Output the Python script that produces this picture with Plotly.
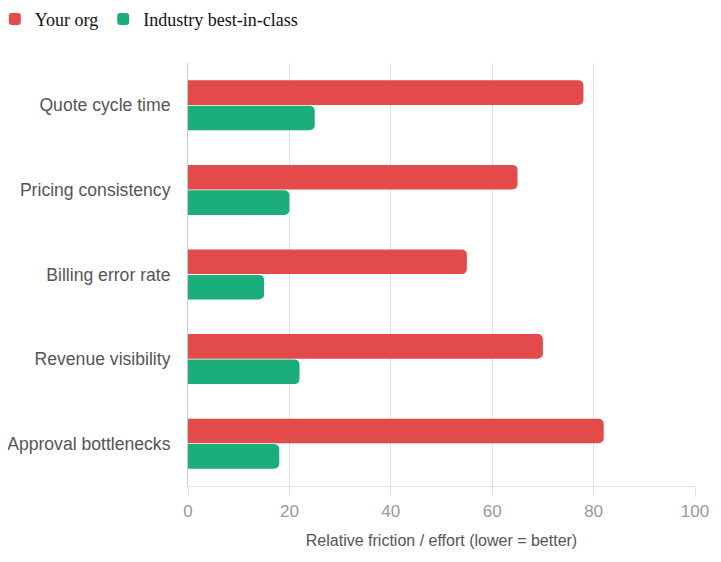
import plotly.graph_objects as go

# categories top to bottom
categories = ["Quote cycle time", "Pricing consistency", "Billing error rate",
              "Revenue visibility", "Approval bottlenecks"]
your_org = [78, 65, 55, 70, 82]
best_in_class = [25, 20, 15, 22, 18]
x_ticks = [0, 20, 40, 60, 80, 100]

RED = "#e34b4b"
GREEN = "#1bae7a"

fig = go.Figure()
fig.add_trace(go.Bar(
    y=categories,
    x=your_org,
    orientation="h",
    name="Your org",
    marker=dict(color=RED, line_width=0),
))
fig.add_trace(go.Bar(
    y=categories,
    x=best_in_class,
    orientation="h",
    name="Industry best-in-class",
    marker=dict(color=GREEN, line_width=0),
))

# the page body has an 8px margin, so the figure is 8px smaller and margins shifted
fig.update_layout(
    width=713,
    height=554,
    margin=dict(l=180, r=26, t=55, b=76, autoexpand=False),
    paper_bgcolor="white",
    plot_bgcolor="white",
    barmode="group",
    bargap=0.40,
    bargroupgap=0.03,
    barcornerradius=5,
    font=dict(family="Liberation Sans, Arial, sans-serif", color="#555555"),
    legend=dict(
        orientation="h",
        x=-0.381, xanchor="left",
        y=1.147, yanchor="top",
        bgcolor="rgba(0,0,0,0)",
        font=dict(family="Liberation Serif, Times New Roman, serif", size=18, color="#111111"),
        itemwidth=30,
        traceorder="normal",
    ),
    xaxis=dict(
        range=[0, 100],
        tickvals=x_ticks,
        showgrid=True,
        gridcolor="#e2e2e2",
        gridwidth=1,
        zeroline=False,
        showline=True,
        linecolor="#e2e2e2",
        ticks="outside",
        ticklen=10,
        tickcolor="#e2e2e2",
        tickfont=dict(size=17, color="#999999"),
        automargin=False,
        title=dict(text="Relative friction / effort (lower = better)",
                   font=dict(size=16, color="#555555"), standoff=14),
    ),
    yaxis=dict(
        autorange="reversed",
        showgrid=False,
        zeroline=False,
        showline=True,
        linecolor="#cccccc",
        ticks="",
        ticklabelstandoff=13,
        automargin=False,
        tickfont=dict(size=17.6, color="#555555"),
    ),
)

fig.write_html("out.html")
